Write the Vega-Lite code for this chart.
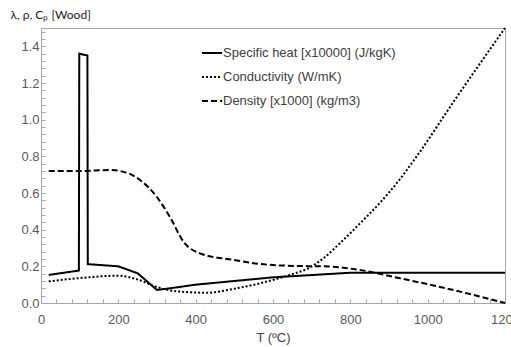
{
  "$schema": "https://vega.github.io/schema/vega-lite/v6.json",
  "width": 464,
  "height": 275,
  "autosize": {"type": "none"},
  "padding": {"left": 41, "top": 28, "right": 6, "bottom": 44},
  "background": "white",
  "config": {
    "font": "Liberation Sans",
    "view": {"stroke": "#a6a6a6", "strokeWidth": 1},
    "axis": {"domainColor": "#a6a6a6", "tickColor": "#a6a6a6", "labelColor": "#595959", "labelFontSize": 13, "titleFontWeight": "normal", "grid": false}
  },
  "data": {
    "values": [
      {"T": 20, "v": 0.153, "s": "Specific heat [x10000] (J/kgK)"},
      {"T": 98, "v": 0.177, "s": "Specific heat [x10000] (J/kgK)"},
      {"T": 99, "v": 1.36, "s": "Specific heat [x10000] (J/kgK)"},
      {"T": 120, "v": 1.35, "s": "Specific heat [x10000] (J/kgK)"},
      {"T": 121, "v": 0.212, "s": "Specific heat [x10000] (J/kgK)"},
      {"T": 200, "v": 0.2, "s": "Specific heat [x10000] (J/kgK)"},
      {"T": 250, "v": 0.162, "s": "Specific heat [x10000] (J/kgK)"},
      {"T": 300, "v": 0.071, "s": "Specific heat [x10000] (J/kgK)"},
      {"T": 350, "v": 0.085, "s": "Specific heat [x10000] (J/kgK)"},
      {"T": 400, "v": 0.1, "s": "Specific heat [x10000] (J/kgK)"},
      {"T": 600, "v": 0.14, "s": "Specific heat [x10000] (J/kgK)"},
      {"T": 800, "v": 0.165, "s": "Specific heat [x10000] (J/kgK)"},
      {"T": 1200, "v": 0.165, "s": "Specific heat [x10000] (J/kgK)"},
      {"T": 20, "v": 0.118, "s": "Conductivity (W/mK)"},
      {"T": 100, "v": 0.136, "s": "Conductivity (W/mK)"},
      {"T": 200, "v": 0.149, "s": "Conductivity (W/mK)"},
      {"T": 250, "v": 0.128, "s": "Conductivity (W/mK)"},
      {"T": 300, "v": 0.087, "s": "Conductivity (W/mK)"},
      {"T": 350, "v": 0.064, "s": "Conductivity (W/mK)"},
      {"T": 430, "v": 0.056, "s": "Conductivity (W/mK)"},
      {"T": 500, "v": 0.078, "s": "Conductivity (W/mK)"},
      {"T": 566, "v": 0.107, "s": "Conductivity (W/mK)"},
      {"T": 643, "v": 0.153, "s": "Conductivity (W/mK)"},
      {"T": 690, "v": 0.188, "s": "Conductivity (W/mK)"},
      {"T": 725, "v": 0.235, "s": "Conductivity (W/mK)"},
      {"T": 773, "v": 0.326, "s": "Conductivity (W/mK)"},
      {"T": 824, "v": 0.432, "s": "Conductivity (W/mK)"},
      {"T": 876, "v": 0.545, "s": "Conductivity (W/mK)"},
      {"T": 928, "v": 0.675, "s": "Conductivity (W/mK)"},
      {"T": 975, "v": 0.81, "s": "Conductivity (W/mK)"},
      {"T": 1070, "v": 1.107, "s": "Conductivity (W/mK)"},
      {"T": 1200, "v": 1.5, "s": "Conductivity (W/mK)"},
      {"T": 20, "v": 0.72, "s": "Density [x1000] (kg/m3)"},
      {"T": 100, "v": 0.72, "s": "Density [x1000] (kg/m3)"},
      {"T": 180, "v": 0.725, "s": "Density [x1000] (kg/m3)"},
      {"T": 221, "v": 0.711, "s": "Density [x1000] (kg/m3)"},
      {"T": 256, "v": 0.671, "s": "Density [x1000] (kg/m3)"},
      {"T": 299, "v": 0.58, "s": "Density [x1000] (kg/m3)"},
      {"T": 333, "v": 0.471, "s": "Density [x1000] (kg/m3)"},
      {"T": 370, "v": 0.33, "s": "Density [x1000] (kg/m3)"},
      {"T": 411, "v": 0.271, "s": "Density [x1000] (kg/m3)"},
      {"T": 497, "v": 0.235, "s": "Density [x1000] (kg/m3)"},
      {"T": 566, "v": 0.213, "s": "Density [x1000] (kg/m3)"},
      {"T": 660, "v": 0.202, "s": "Density [x1000] (kg/m3)"},
      {"T": 730, "v": 0.2, "s": "Density [x1000] (kg/m3)"},
      {"T": 820, "v": 0.182, "s": "Density [x1000] (kg/m3)"},
      {"T": 928, "v": 0.135, "s": "Density [x1000] (kg/m3)"},
      {"T": 1048, "v": 0.08, "s": "Density [x1000] (kg/m3)"},
      {"T": 1200, "v": 0.0, "s": "Density [x1000] (kg/m3)"}
    ]
  },
  "encoding": {
    "x": {
      "field": "T", "type": "quantitative",
      "scale": {"domain": [0, 1200], "nice": false},
      "axis": {
        "title": "T (ºC)", "titleFontSize": 13, "titleColor": "#404040", "titlePadding": 5,
        "values": [0,40,80,120,160,200,240,280,320,360,400,440,480,520,560,600,640,680,720,760,800,840,880,920,960,1000,1040,1080,1120,1160,1200],
        "labelExpr": "datum.value % 200 == 0 ? datum.value : ''",
        "tickSize": -4, "labelPadding": 14, "labelFlush": false
      }
    },
    "y": {
      "field": "v", "type": "quantitative",
      "scale": {"domain": [0, 1.5], "nice": false},
      "axis": {
        "title": "λ, ρ, Cₚ [Wood]", "titleAngle": 0, "titleAlign": "left", "titleBaseline": "middle",
        "titleX": -31, "titleY": -14, "titleFontSize": 12, "titleColor": "#1a1a1a", "titleFont": "Lato",
        "values": [0,0.04,0.08,0.12,0.16,0.2,0.24,0.28,0.32,0.36,0.4,0.44,0.48,0.52,0.56,0.6,0.64,0.68,0.72,0.76,0.8,0.84,0.88,0.92,0.96,1.0,1.04,1.08,1.12,1.16,1.2,1.24,1.28,1.32,1.36,1.4,1.44,1.48],
        "labelExpr": "abs(datum.value*5 - round(datum.value*5)) < 0.001 ? format(datum.value, '.1f') : ''",
        "tickSize": -4, "labelPadding": 6
      }
    },
    "strokeDash": {
      "field": "s", "type": "nominal",
      "scale": {
        "domain": ["Specific heat [x10000] (J/kgK)", "Conductivity (W/mK)", "Density [x1000] (kg/m3)"],
        "range": [[1, 0], [2, 2], [6, 3]]
      },
      "legend": {
        "title": null, "orient": "none", "legendX": 160, "legendY": 14,
        "symbolType": "stroke", "symbolSize": 400, "symbolStrokeWidth": 2, "symbolStrokeColor": "black",
        "labelFontSize": 13, "labelColor": "#404040", "labelOffset": 0, "rowPadding": 6, "labelLimit": 0
      }
    }
  },
  "layer": [
    {
      "transform": [{"filter": "datum.s == 'Specific heat [x10000] (J/kgK)'"}],
      "mark": {"type": "line", "color": "black", "strokeWidth": 2, "interpolate": "linear"}
    },
    {
      "transform": [{"filter": "datum.s != 'Specific heat [x10000] (J/kgK)'"}],
      "mark": {"type": "line", "color": "black", "strokeWidth": 2, "interpolate": "monotone"}
    }
  ]
}
